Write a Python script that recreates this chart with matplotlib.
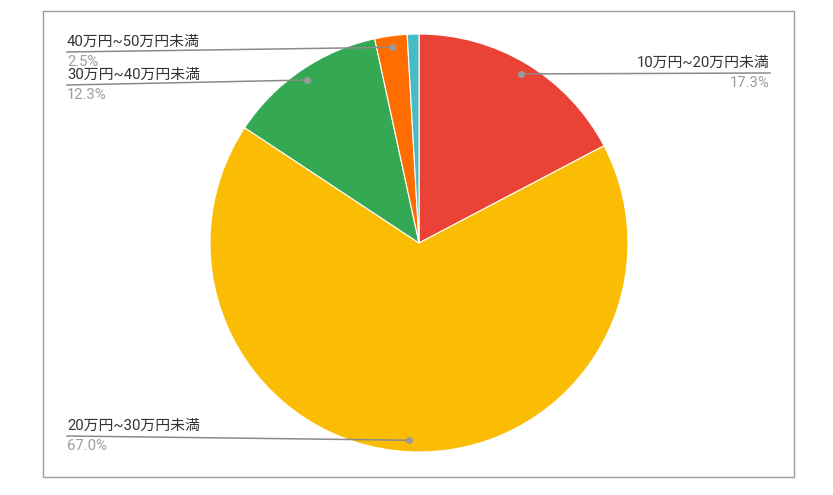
import numpy as np
import matplotlib.pyplot as plt

plt.rcParams['font.family'] = ['Roboto', 'Noto Sans CJK JP', 'DejaVu Sans']

# データ
labels = ['10万円~20万円未満', '20万円~30万円未満', '30万円~40万円未満',
          '40万円~50万円未満', '50万円以上']
values = [17.3, 67.0, 12.3, 2.5, 0.9]
colors = ['#ea4335', '#fbbc04', '#34a853', '#ff6d01', '#46bdc6']

W, H = 833, 495
fig = plt.figure(figsize=(W / 100, H / 100), dpi=100)
ax = fig.add_axes([0, 0, 1, 1])
ax.set_xlim(0, W)
ax.set_ylim(0, H)
ax.axis('off')

# 外枠
ax.add_patch(plt.Rectangle((43, H - 477), 751, 466, fill=False,
                           edgecolor='#9e9e9e', linewidth=1))

cx, cy, r = 419, H - 243, 209
wedges, _ = ax.pie(values, colors=colors, startangle=90, counterclock=False,
                   center=(cx, cy), radius=r,
                   wedgeprops=dict(linewidth=0.8, edgecolor='white'))
ax.set_xlim(0, W)
ax.set_ylim(0, H)
ax.set_aspect('equal')

# ラベル位置 (x, 線のy, 揃え)
label_pos = {
    0: (770, H - 73, 'right'),
    1: (67, H - 436, 'left'),
    2: (67, H - 85, 'left'),
    3: (67, H - 52, 'left'),
}

for i, (x0, y0, ha) in label_pos.items():
    w = wedges[i]
    ang = np.deg2rad((w.theta1 + w.theta2) / 2)
    px = cx + 0.945 * r * np.cos(ang)
    py = cy + 0.945 * r * np.sin(ang)
    ax.plot([x0, px], [y0, py], color='#8a8a8a', linewidth=1.1, zorder=3)
    ax.plot(px, py, 'o', color='#9a9a9a', markersize=4, zorder=4)
    ax.text(x0, y0 + 3, labels[i], ha=ha, va='bottom', fontsize=10.7,
            color='#333333')
    ax.text(x0, y0 - 3, f'{values[i]:.1f}%', ha=ha, va='top', fontsize=10.7,
            color='#9e9e9e')

fig.savefig('out.png', dpi=100)
